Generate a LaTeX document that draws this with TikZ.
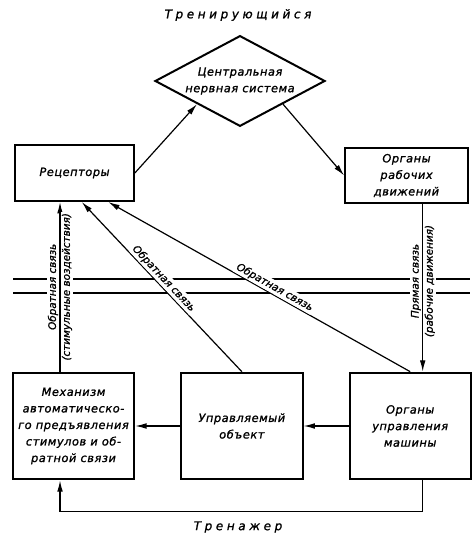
\documentclass[tikz,border=0pt]{standalone}
\usepackage{fontspec}
\setmainfont{DejaVu Sans}
\newfontfamily\gost[LetterSpace=5,FakeBold=1.2]{DejaVu Sans}
\newfontfamily\gostsmall[FakeBold=1]{DejaVu Sans}
\newfontfamily\gostwide[LetterSpace=30,FakeBold=1.2]{DejaVu Sans}
\usetikzlibrary{arrows.meta,calc,positioning,shapes.geometric}
\tikzset{
  block/.style={
    draw=black, line width=1.5pt, fill=white,
    minimum width=91pt, minimum height=80pt, align=center,
    font=\gost\itshape\fontsize{8.5}{12.4}\selectfont
  },
  centre/.style={
    diamond, aspect=1.87, draw=black, line width=1.5pt, fill=white, inner sep=0pt,
    minimum width=127.5pt, minimum height=68pt, align=center,
    font=\gost\itshape\fontsize{8.5}{12.4}\selectfont
  },
  flow/.style={-{Latex[length=3mm,width=1.5mm]}, line width=0.9pt, draw=black},
  rail/.style={line width=1.1pt, draw=black},
  tag/.style={fill=white, inner sep=1pt, font=\gostsmall\itshape\fontsize{7.8}{9}\selectfont},
  heading/.style={font=\gostwide\itshape\fontsize{9}{11}\selectfont}
}
\begin{document}
\begin{tikzpicture}[x=0.75pt,y=0.75pt,node distance=33.75pt]
    \useasboundingbox (0,0) rectangle (475,538);
    % trainee side
    \node[heading] (trainee) at (238,523) {Тренирующийся};
    \node[centre] (cns) at (240,457) {Центральная\\нервная система};
    \node[block,minimum width=89pt,minimum height=42pt] (rec) at (74.5,365) {Рецепторы};
    \node[block,minimum width=92pt,minimum height=41pt] (org) at (406.5,362.5) {Органы\\рабочих\\движений};
    % simulator side
    \node[block] (mech) at (73.5,112) {Механизм\\автоматическо-\\го предъявления\\стимулов и об-\\ратной связи};
    \node[block,right=of mech] (obj) {Управляемый\\объект};
    \node[block,right=of obj] (ctl) {Органы\\управления\\машины};
    \node[heading] (trainer) at (238,11) {Тренажер};
    % boundary
    \draw[rail] (13,259) -- (470,259);
    \draw[rail] (13,245) -- (470,245);
    \coordinate (fwd) at ($(org.south west)!0.63!(org.south east)$);
    \coordinate (back) at ($(rec.south west)!0.38!(rec.south east)$);
    \draw[flow] (rec.east) -- ($(cns.west)!0.5!(cns.south)$);
    \draw[flow] ($(cns.east)!0.5!(cns.south)$) -- (org.west);
    \draw[flow] (fwd) -- node[tag,rotate=90,above,pos=0.46] {Прямая связь}
      node[tag,rotate=90,below,pos=0.46] {(рабочие движения)} (fwd |- ctl.north);
    \draw[flow] (ctl) -- (obj);
    \draw[flow] (obj) -- (mech);
    \draw[flow] (ctl.south -| fwd) -- ++(0,-31) -| (mech.south -| back);
    \draw[flow] (mech.north -| back) -- node[tag,rotate=90,above] {Обратная связь}
      node[tag,rotate=90,below] {(стимульные воздействия)} (back);
    \draw[flow] (obj.north) -- node[tag,sloped,above,pos=0.52] {Обратная связь}
      ($(rec.south west)!0.56!(rec.south east)$);
    \draw[flow] (ctl.north) -- node[tag,sloped,above,pos=0.46] {Обратная связь}
      ($(rec.south west)!0.78!(rec.south east)$);
  \end{tikzpicture}
\end{document}
